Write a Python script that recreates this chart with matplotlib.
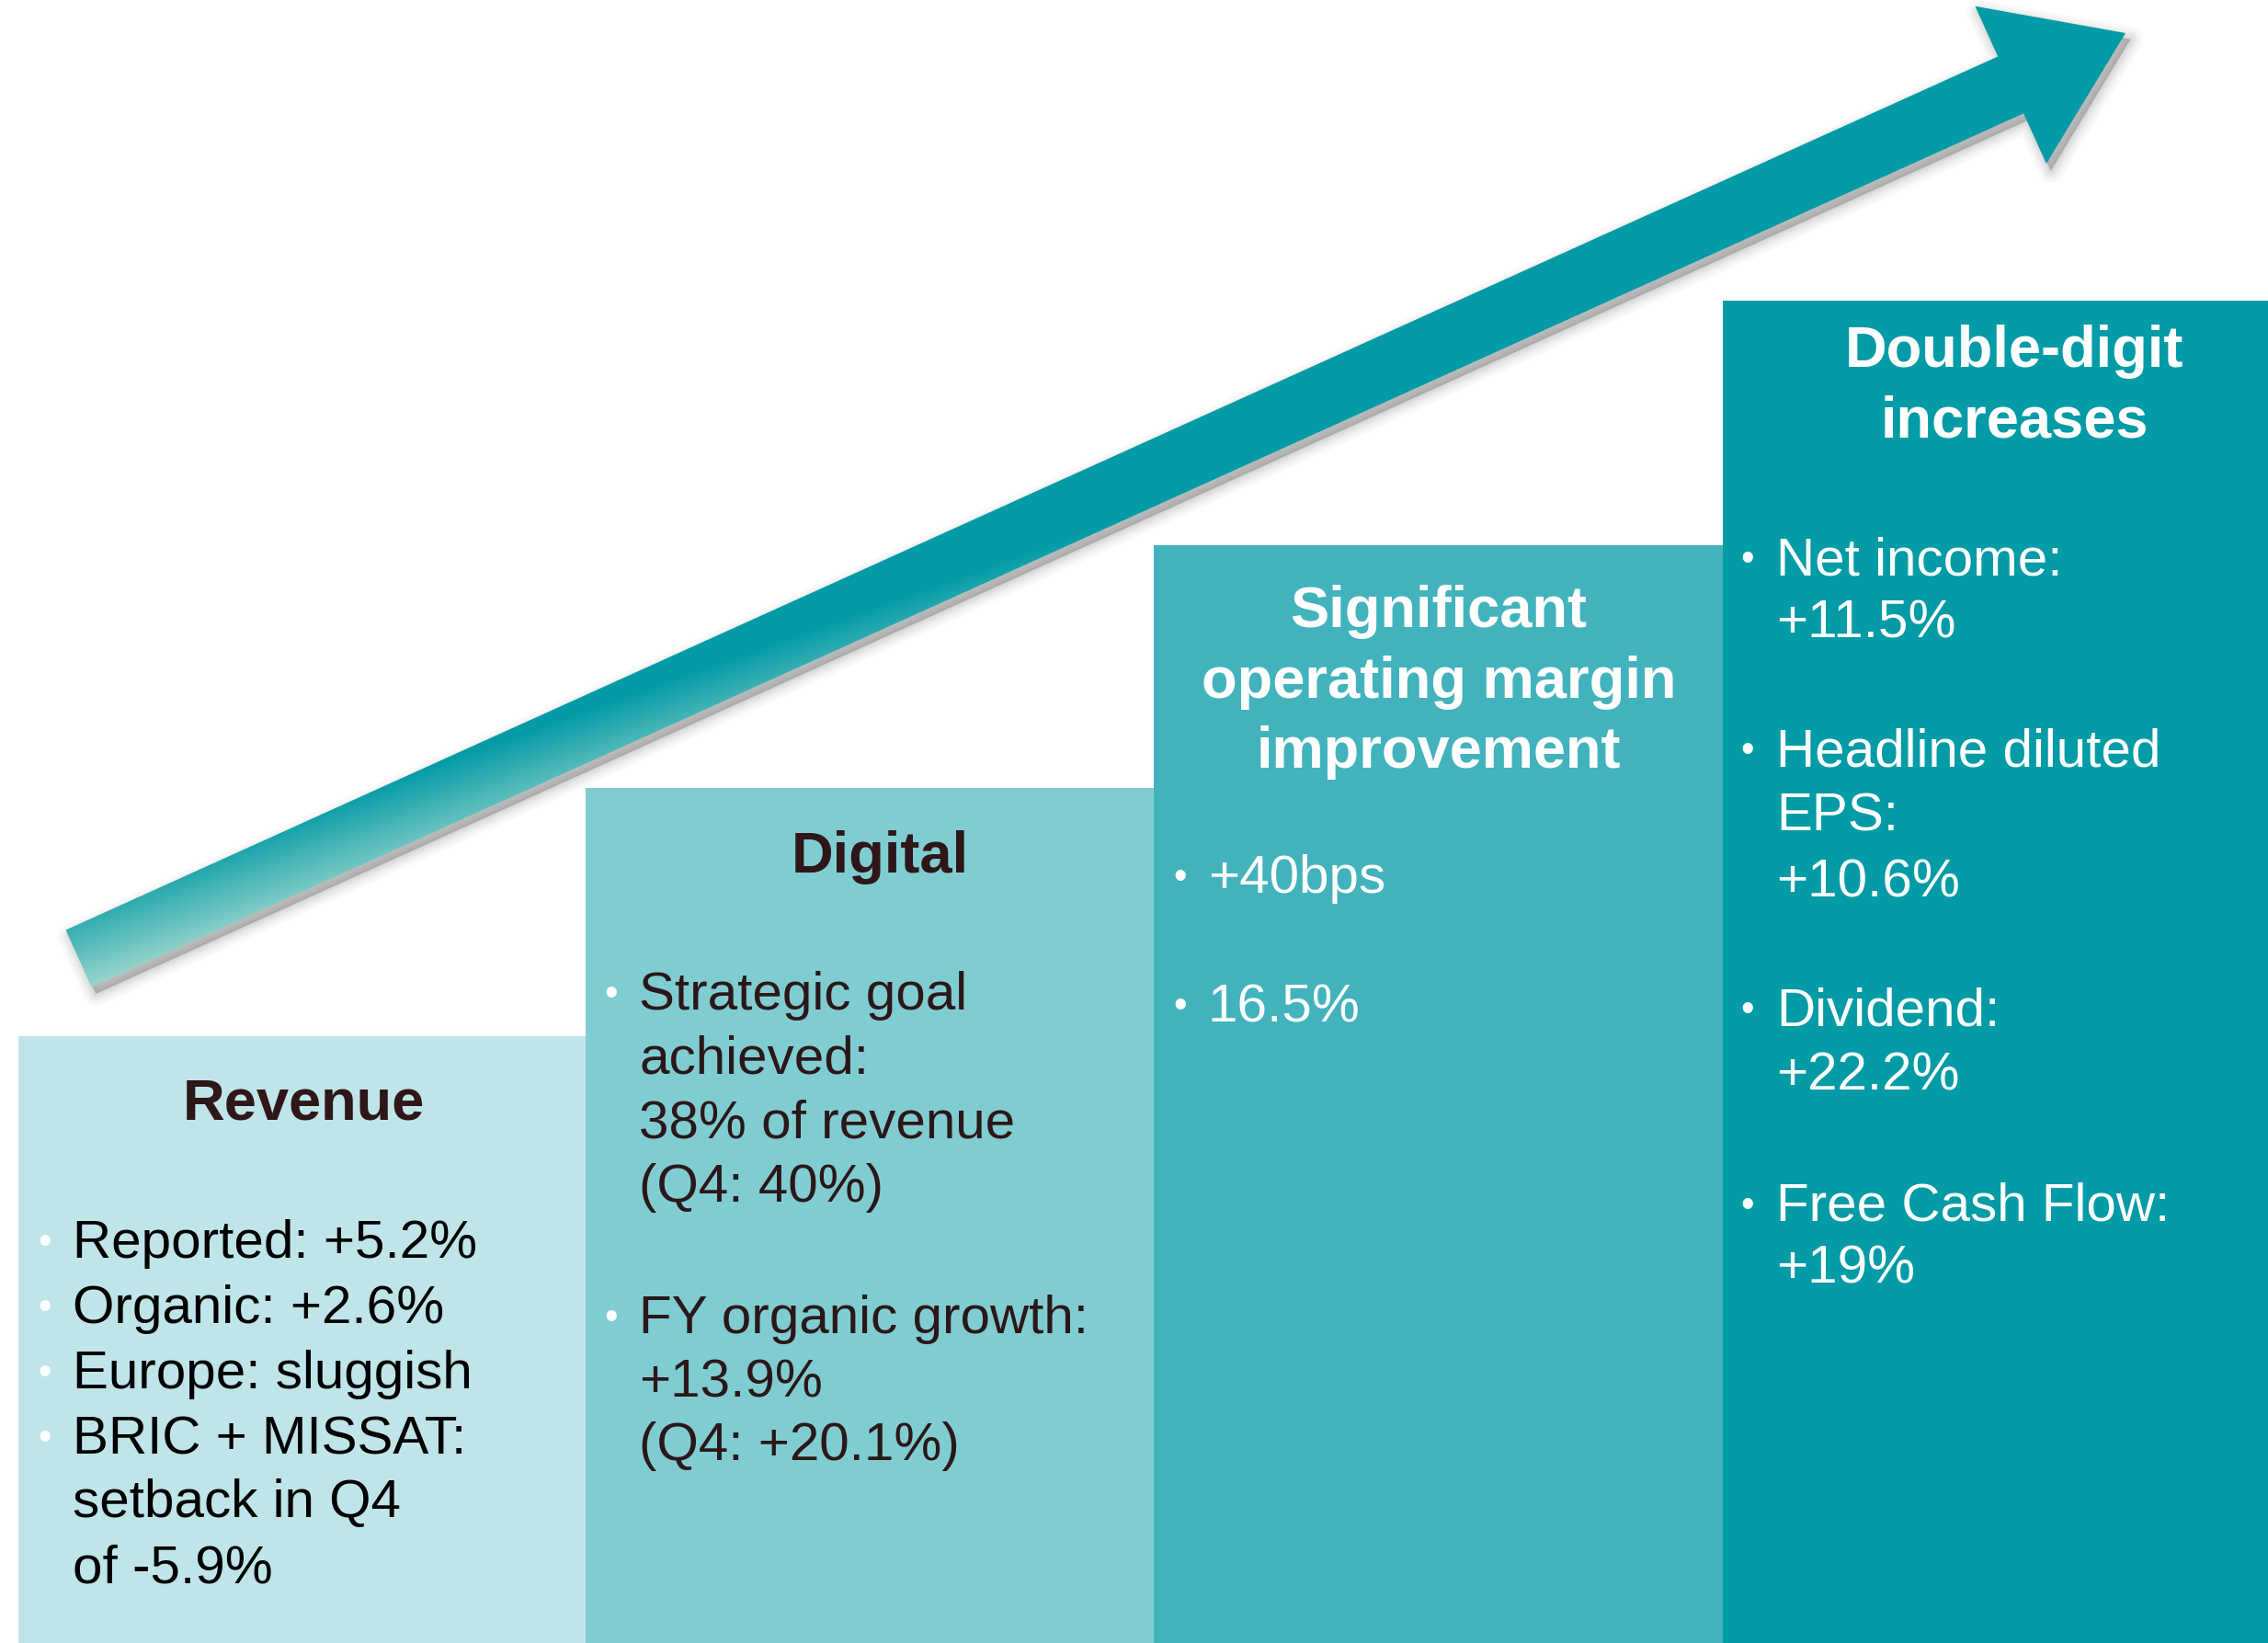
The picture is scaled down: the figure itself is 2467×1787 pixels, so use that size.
import numpy as np
import matplotlib
matplotlib.use("Agg")
import matplotlib.pyplot as plt
from matplotlib.patches import FancyArrow
from matplotlib.colors import to_rgb

W, H = 2467, 1787

# ---------------- data ----------------
panel_titles = [["Revenue"], ["Digital"],
                ["Significant", "operating margin", "improvement"],
                ["Double-digit", "increases"]]
step_levels = [660, 930, 1194, 1460]          # height of each step (px from bottom)
panel_colors = ["#C0E5E8", "#80CDD1", "#42B3BC", "#039BA6"]

revenue_lines = ["Reported: +5.2%", "Organic: +2.6%", "Europe: sluggish",
                 "BRIC + MISSAT:", "setback in Q4", "of -5.9%"]
revenue_bullets = [1, 1, 1, 1, 0, 0]

digital_lines = ["Strategic goal", "achieved:", "38% of revenue", "(Q4: 40%)",
                 "FY organic growth:", "+13.9%", "(Q4: +20.1%)"]
digital_bullets = [1, 0, 0, 0, 1, 0, 0]

margin_lines = ["+40bps", "16.5%"]
margin_bullets = [1, 1]

increase_lines = ["Net income:", "+11.5%", "Headline diluted", "EPS:", "+10.6%",
                  "Dividend:", "+22.2%", "Free Cash Flow:", "+19%"]
increase_bullets = [1, 0, 1, 0, 0, 1, 0, 1, 0]

# ---------------- layout ----------------
step_edges = np.array([20, 637, 1255, 1874, 2467])
title_x = [330, 957, 1565, 2191]
title_baselines = [[1218], [949], [682, 759, 835], [399, 476]]
title_colors = ["#2E1619", "#2E1619", "white", "white"]

body = [
    (revenue_lines, revenue_bullets, 79, 49,
     [1368, 1439, 1510, 1581, 1650, 1721], "#000000"),
    (digital_lines, digital_bullets, 695, 665,
     [1098, 1168, 1238, 1307, 1450, 1519, 1588], "#2B1719"),
    (margin_lines, margin_bullets, 1314, 1284, [971, 1111], "white"),
    (increase_lines, increase_bullets, 1932, 1901,
     [625, 694, 833, 904, 976, 1115, 1186, 1328, 1396], "white"),
]

FONT = "Liberation Sans"
BODY_SIZE = 42
TITLE_SIZE = 45.5

fig = plt.figure(figsize=(W / 100, H / 100), dpi=100)
ax = fig.add_axes([0, 0, 1, 1])
ax.set_xlim(0, W)
ax.set_ylim(H, 0)
ax.axis("off")

# steps
levels = np.array(step_levels)
ax.bar(step_edges[:-1], levels, width=np.diff(step_edges), bottom=H - levels,
       align="edge", color=panel_colors, edgecolor="none", zorder=1)

# arrow
tail = (85.5, 1042.5)
tip = (2312.0, 36.0)
dx, dy = tip[0] - tail[0], tip[1] - tail[1]
akw = dict(width=68, head_width=188, head_length=137,
           length_includes_head=True)

# soft drop shadow
for lw, al in [(20, 0.03), (15, 0.04), (11, 0.05), (7, 0.06), (3, 0.08), (0.5, 0.12)]:
    sh = FancyArrow(tail[0] + 5, tail[1] + 7, dx, dy, facecolor="#5a5a5a",
                    edgecolor="#5a5a5a", linewidth=lw, alpha=al, zorder=2,
                    joinstyle="round", **akw)
    ax.add_patch(sh)

arrow = FancyArrow(tail[0], tail[1], dx, dy, facecolor="none",
                   edgecolor="none", zorder=3, **akw)
ax.add_patch(arrow)

xs = np.arange(40, 2340, 2.0)
ys = np.arange(0, 1100, 2.0)
X, Y = np.meshgrid(xs, ys)
t = np.clip(0.009107 * Y + 0.003257 * X - 9.097, 0, 1)[..., None]
c0 = np.array(to_rgb("#039BA6"))
c1 = np.array(to_rgb("#9AD6CC"))
img = c0 * (1 - t) + c1 * t
im = ax.imshow(img, extent=(xs[0], xs[-1] + 2, ys[-1] + 2, ys[0]),
               origin="upper", zorder=3, interpolation="bilinear")
im.set_clip_path(arrow)
ax.set_aspect("auto")
ax.set_xlim(0, W)
ax.set_ylim(H, 0)

# titles
for lines, x, bls, col in zip(panel_titles, title_x, title_baselines, title_colors):
    for s, b in zip(lines, bls):
        ax.text(x, b, s, ha="center", va="baseline", fontsize=TITLE_SIZE,
                fontweight="bold", family=FONT, color=col, zorder=5)

# body text
for lines, bullets, tx, bx, bls, col in body:
    for s, bul, b in zip(lines, bullets, bls):
        ax.text(tx, b, s, ha="left", va="baseline", fontsize=BODY_SIZE,
                family=FONT, color=col, zorder=5)
        if bul:
            ax.text(bx, b - 5, "\u2022", ha="center", va="baseline",
                    fontsize=30, family=FONT, color="white", zorder=5)

fig.savefig("out.png", dpi=100, facecolor="white")
